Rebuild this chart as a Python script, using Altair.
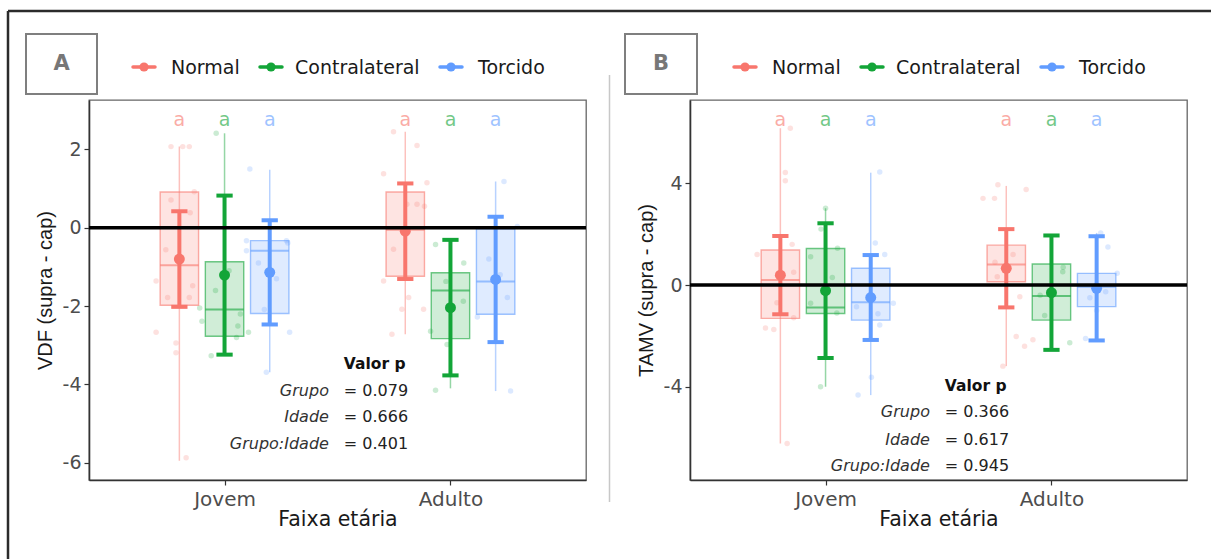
import altair as alt
import pandas as pd

ages = ["Jovem", "Adulto"]
groups = ["Normal", "Contralateral", "Torcido"]
colors = ["#F8766D", "#13A538", "#619CFF"]

# cell order: Jovem-Normal, Jovem-Contralateral, Jovem-Torcido, Adulto-Normal, Adulto-Contralateral, Adulto-Torcido
cell_age = [0, 0, 0, 1, 1, 1]
cell_group = [0, 1, 2, 0, 1, 2]

# Panel A: VDF
vdf_min = [-5.95, -3.27, -3.69, -2.72, -4.10, -4.17]
vdf_q1 = [-1.98, -2.77, -2.19, -1.24, -2.83, -2.21]
vdf_med = [-0.96, -2.09, -0.59, -0.05, -1.60, -1.37]
vdf_q3 = [0.91, -0.87, -0.33, 0.91, -1.15, -0.03]
vdf_max = [2.07, 2.41, 1.48, 2.45, -0.35, 1.18]
vdf_mean = [-0.80, -1.21, -1.14, -0.09, -2.04, -1.32]
vdf_sd = [1.22, 2.03, 1.33, 1.22, 1.73, 1.60]

# (cell, jitter, value)
vdf_points = [
    (0, -0.037, 2.07), (0, 0.015, 2.07), (0, 0.044, 2.07), (0, 0.066, 0.92), (0, -0.037, 0.71),
    (0, 0.048, 0.38), (0, -0.06, -0.56), (0, -0.103, -1.36), (0, 0.059, -1.48), (0, 0.044, -1.78),
    (0, -0.052, -1.78), (0, -0.103, -2.67), (0, -0.015, -2.94), (0, -0.015, -3.19), (0, 0.03, -5.87),
    (1, -0.037, 2.41), (1, 0.02, -1.10), (1, -0.04, -1.60), (1, -0.11, -2.05), (1, 0.07, -2.20),
    (1, -0.10, -2.39), (1, 0.059, -2.51), (1, 0.106, -2.67), (1, 0.053, -2.80), (1, -0.059, -3.27),
    (2, -0.088, 1.50), (2, -0.103, -0.33), (2, 0.074, -0.33), (2, 0.08, -0.39), (2, -0.103, -0.59),
    (2, -0.05, -0.90), (2, 0.03, -1.30), (2, -0.024, -2.09), (2, 0.088, -2.67), (2, -0.015, -3.69),
    (3, -0.052, 2.45), (3, 0.052, 2.10), (3, -0.096, 1.38), (3, 0.096, 1.15), (3, 0.007, 0.60),
    (3, 0.052, 0.60), (3, 0.085, 0.55), (3, -0.052, -0.55), (3, -0.096, -1.36), (3, 0.015, -1.78),
    (3, -0.015, -2.08), (3, 0.081, -2.08), (3, -0.059, -2.72),
    (4, -0.066, -0.43), (4, 0.059, -0.90), (4, -0.02, -1.37), (4, 0.057, -1.88), (4, -0.088, -2.64),
    (4, -0.015, -2.98), (4, -0.066, -4.15),
    (5, 0.037, 1.18), (5, 0.096, 0.03), (5, -0.03, -0.80), (5, 0.02, -1.20), (5, 0.052, -1.78),
    (5, -0.081, -2.28), (5, 0.066, -4.17),
]

# Panel B: TAMV
tamv_min = [-6.23, -4.00, -4.33, -3.19, -2.53, -2.13]
tamv_q1 = [-1.31, -1.12, -1.38, 0.13, -1.38, -0.85]
tamv_med = [0.20, -0.88, -0.68, 0.81, -0.43, -0.07]
tamv_q3 = [1.38, 1.44, 0.66, 1.57, 0.83, 0.46]
tamv_max = [6.17, 3.02, 4.42, 3.90, 1.97, 2.05]
tamv_mean = [0.39, -0.22, -0.49, 0.66, -0.30, -0.13]
tamv_sd = [1.54, 2.65, 1.67, 1.54, 2.25, 2.05]

tamv_points = [
    (0, 0.044, 6.17), (0, 0.022, 4.43), (0, 0.022, 4.10), (0, 0.052, 1.60), (0, -0.103, 1.20),
    (0, 0.059, 0.50), (0, -0.015, -0.70), (0, 0.059, -1.29), (0, -0.066, -1.69), (0, -0.029, -1.75),
    (0, 0.03, -6.23),
    (1, 0.0, 3.02), (1, -0.02, 2.20), (1, 0.053, 1.45), (1, -0.066, 1.11), (1, 0.03, 0.30),
    (1, -0.066, -0.72), (1, 0.05, -1.10), (1, -0.022, -4.00),
    (2, 0.04, 4.45), (2, 0.02, 1.65), (2, 0.062, 1.20), (2, 0.10, -0.72), (2, -0.063, -0.85),
    (2, 0.032, -1.13), (2, 0.04, -1.57), (2, 0.003, -3.63), (2, -0.056, -4.33),
    (3, -0.037, 3.95), (3, 0.088, 3.76), (3, -0.103, 3.41), (3, -0.052, 3.41), (3, 0.03, 1.20),
    (3, -0.05, 0.90), (3, -0.04, 0.33), (3, 0.06, -0.46), (3, 0.044, -2.02), (3, 0.118, -2.15),
    (3, 0.081, -2.41), (3, -0.015, -3.19),
    (4, 0.052, 0.70), (4, 0.05, 0.52), (4, -0.05, -0.40), (4, -0.03, -1.20), (4, 0.081, -2.27),
    (5, 0.018, 2.05), (5, 0.05, 1.50), (5, 0.091, 0.46), (5, 0.04, -0.26), (5, -0.03, -0.50),
    (5, 0.0, -1.00), (5, -0.049, -2.10),
]

pv_names = ["Grupo", "Idade", "Grupo:Idade"]
vdf_p = ["0.079", "0.666", "0.401"]
tamv_p = ["0.366", "0.617", "0.945"]
letters = ["a", "a", "a", "a", "a", "a"]

# layout helpers (dodge & widths in x units, legend offsets in pixels from the plot's left edge)
dodge = [-0.2, 0.0, 0.2]
box_half = 0.085
cap_half = 0.036
legend_sym_px = [55, 182, 362]
legend_lab_px = [82, 206, 389]
W, H = 497, 380
FONT = "DejaVu Sans"
PX = 2.2 / W  # x-units per pixel


def make_panel(mins, q1, med, q3, maxs, means, sds, points, ydom, yticks, ytitle,
               letter_y, pvals, pv_y, tag, tag_box, tag_xy, extras):
    rows = []
    for i in range(6):
        g = cell_group[i]
        pos = cell_age[i] + 1 + dodge[g]
        rows.append(dict(group=groups[g], pos=pos, left=pos - box_half,
                         right=pos + box_half, cl=pos - cap_half, cr=pos + cap_half, mn=mins[i],
                         q1=q1[i], med=med[i], q3=q3[i], mx=maxs[i], mean=means[i],
                         lo=means[i] - sds[i], hi=means[i] + sds[i], letter=letters[i],
                         ly=letter_y))
    cells = pd.DataFrame(rows)
    pts = pd.DataFrame([dict(group=groups[cell_group[c]],
                             x=cell_age[c] + 1 + dodge[cell_group[c]] + j, v=v)
                        for c, j, v in points])
    leg = pd.DataFrame({"group": groups,
                        "sx": [0.4 + p * PX for p in legend_sym_px],
                        "sl": [0.4 + (p - 11) * PX for p in legend_sym_px],
                        "sr": [0.4 + (p + 11) * PX for p in legend_sym_px],
                        "tx": [0.4 + p * PX for p in legend_lab_px]})

    xs = alt.Scale(domain=[0.4, 2.6], nice=False, zero=False)
    ys = alt.Scale(domain=ydom, nice=False, zero=False)
    cs = alt.Scale(domain=groups, range=colors)
    label_expr = "[" + ",".join("'" + a + "'" for a in ages) + "][datum.value - 1]"
    xa = alt.Axis(values=[1, 2], labelExpr=label_expr, title="Faixa etária", titleX=W / 2,
                  titleY=39, titleBaseline="middle", titleAlign="center", titleFont=FONT,
                  titleFontSize=20.5, labelFont=FONT, labelFontSize=20, labelPadding=4,
                  tickSize=5, grid=False)
    ya = alt.Axis(values=yticks, labelExpr="toString(datum.value)", title=ytitle, titleX=-44,
                  titleY=H / 2, titleAngle=270,
                  titleBaseline="middle", titleAlign="center", titleFont="Liberation Sans",
                  titleFontSize=20, labelFont=FONT, labelFontSize=19, labelPadding=3,
                  tickSize=5, grid=False)

    def X(f):
        return alt.X(f, type="quantitative", scale=xs, axis=xa)

    def Y(f):
        return alt.Y(f, type="quantitative", scale=ys, axis=ya)

    def C(ch):
        return ch("group:N", scale=cs, legend=None)

    base = alt.Chart(cells)
    jit = alt.Chart(pts).mark_circle(size=30, opacity=0.22).encode(
        x=X("x"), y=Y("v"), fill=C(alt.Fill))
    whisk = base.mark_rule(strokeWidth=1.5, opacity=0.45).encode(
        x=X("pos"), y=Y("mn"), y2="mx", stroke=C(alt.Stroke))
    box = base.mark_rect(fillOpacity=0.2, strokeOpacity=0.6, strokeWidth=1.4).encode(
        x=X("left"), x2="right", y=Y("q1"), y2="q3", fill=C(alt.Fill), stroke=C(alt.Stroke))
    median = base.mark_rule(strokeWidth=2, opacity=0.6).encode(
        x=X("left"), x2="right", y=Y("med"), stroke=C(alt.Stroke))
    err = base.mark_rule(strokeWidth=4).encode(
        x=X("pos"), y=Y("lo"), y2="hi", stroke=C(alt.Stroke))
    caps = base.transform_fold(["lo", "hi"], as_=["which", "capy"]).mark_rule(strokeWidth=4).encode(
        x=X("cl"), x2="cr", y=Y("capy"), stroke=C(alt.Stroke))
    meanpt = base.mark_circle(size=120, opacity=1).encode(
        x=X("pos"), y=Y("mean"), fill=C(alt.Fill))
    let = base.mark_text(font=FONT, fontSize=19, opacity=0.6, baseline="middle").encode(
        x=X("pos"), y=Y("ly"), text="letter:N", fill=C(alt.Fill))
    zero = alt.Chart(pd.DataFrame({"z": [0]})).mark_rule(color="black", strokeWidth=3.5).encode(
        y=Y("z"))

    # legend (drawn as marks above the panel)
    leg_line = alt.Chart(leg).mark_rule(strokeWidth=3.5, strokeCap="round").encode(
        x=X("sl"), x2="sr", y=alt.value(-33), stroke=C(alt.Stroke))
    leg_dot = alt.Chart(leg).mark_circle(size=85, opacity=1).encode(
        x=X("sx"), y=alt.value(-33), fill=C(alt.Fill))
    leg_txt = alt.Chart(leg).mark_text(font=FONT, fontSize=19, align="left", baseline="middle",
                                       color="#1a1a1a").encode(
        x=X("tx"), y=alt.value(-32), text="group:N")

    ptab = pd.DataFrame({"name": pv_names, "val": ["= " + p for p in pvals], "y": pv_y[1:],
                         "xn": [1.462] * 3, "xv": [1.528] * 3})
    head = alt.Chart(pd.DataFrame({"t": ["Valor p"], "x": [1.528], "y": [pv_y[0]]})).mark_text(
        font=FONT, fontSize=15.5, fontWeight="bold", align="left", baseline="middle",
        color="#111111").encode(x=X("x"), y=Y("y"), text="t:N")
    names = alt.Chart(ptab).mark_text(font=FONT, fontSize=16, fontStyle="italic", align="right",
                                      baseline="middle", color="#333333").encode(
        x=X("xn"), y=Y("y"), text="name:N")
    vals = alt.Chart(ptab).mark_text(font=FONT, fontSize=16, align="left", baseline="middle",
                                     color="#222222").encode(x=X("xv"), y=Y("y"), text="val:N")

    one = alt.Data(values=[{"k": 0}])
    tagbox = alt.Chart(one).mark_rect(fill="white", stroke="#7f7f7f", strokeWidth=2).encode(
        x=alt.value(tag_box[0]), x2=alt.value(tag_box[1]), y=alt.value(tag_box[2]),
        y2=alt.value(tag_box[3]))
    tagtxt = alt.Chart(one).mark_text(font=FONT, fontSize=21, fontWeight="bold", color="#777777",
                                      align="center", baseline="middle", text=tag).encode(
        x=alt.value(tag_xy[0]), y=alt.value(tag_xy[1]))

    layers = [jit, whisk, box, median, err, caps, meanpt, let, zero, head, names, vals,
              leg_line, leg_dot, leg_txt, tagbox, tagtxt] + extras
    return alt.layer(*layers).properties(width=W, height=H)


one = alt.Data(values=[{"k": 0}])
frame_top = alt.Chart(one).mark_rule(color="#2b2b2b", strokeWidth=2.5).encode(
    x=alt.value(-81), x2=alt.value(1130), y=alt.value(-89))
frame_left = alt.Chart(one).mark_rule(color="#2b2b2b", strokeWidth=2.5).encode(
    x=alt.value(-81), y=alt.value(-89), y2=alt.value(470))
separator = alt.Chart(one).mark_rule(color="#c8c8c8", strokeWidth=1.5).encode(
    x=alt.value(520.5), y=alt.value(-25), y2=alt.value(402))

panel_a = make_panel(vdf_min, vdf_q1, vdf_med, vdf_q3, vdf_max, vdf_mean, vdf_sd, vdf_points,
                     [-6.44, 3.26], [-6, -4, -2, 0, 2], "VDF (supra - cap)", 2.75, vdf_p,
                     [-3.49, -4.17, -4.83, -5.52], "A", [-63, 8, -66, -6], [-27.5, -36],
                     [frame_top, frame_left, separator])
panel_b = make_panel(tamv_min, tamv_q1, tamv_med, tamv_q3, tamv_max, tamv_mean, tamv_sd,
                     tamv_points, [-7.67, 7.28], [-4, 0, 4], "TAMV (supra - cap)", 6.5, tamv_p,
                     [-3.98, -5.0, -6.1, -7.13], "B", [-65, 7, -66, -6], [-29, -36], [])

chart = alt.hconcat(panel_a, panel_b, spacing=104, bounds="flush").resolve_scale(
    fill="independent", stroke="independent",
    x="independent", y="independent").properties(
    padding={"left": 89, "top": 100, "right": 1122, "bottom": 459},
    autosize=alt.AutoSizeParams(type="none"), background="white").configure_view(
    stroke="#666666", strokeWidth=1.3).configure_axis(
    domainColor="#333333", domainWidth=1.6, tickColor="#333333", tickWidth=1.2,
    labelColor="#4d4d4d", titleColor="#1a1a1a", titleFontWeight="normal")

chart.save("out.html", embed_options={"renderer": "svg", "actions": False})
